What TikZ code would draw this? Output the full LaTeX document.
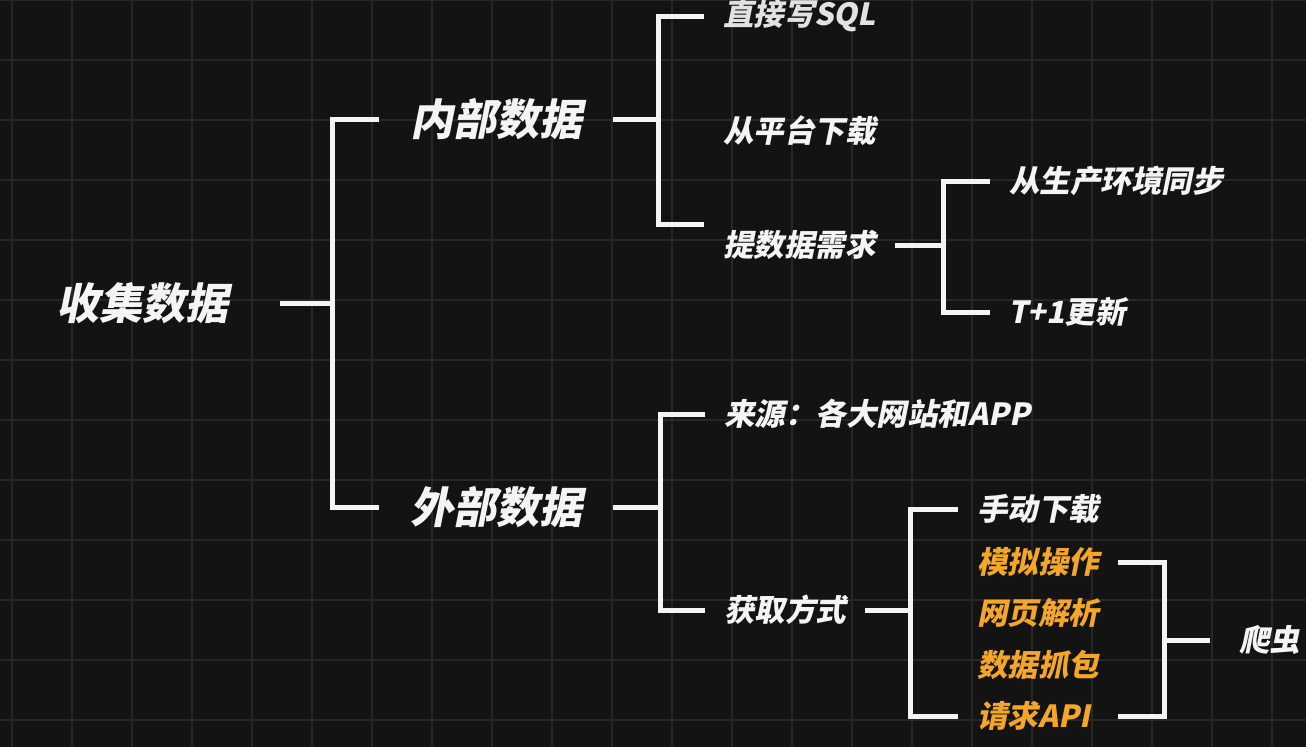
\documentclass[tikz,border=0pt]{standalone}
\usepackage{fontspec}
\newfontfamily\cjk[FakeSlant=0.2]{Noto Sans CJK SC}
\usetikzlibrary{positioning, calc}
\definecolor{cbg}{HTML}{131313}
\definecolor{cgrid}{HTML}{272727}
\definecolor{cwhite}{HTML}{F4F4F4}
\definecolor{cdim}{HTML}{E2E2E2}
\definecolor{corange}{HTML}{F4A62A}
\tikzset{
  every picture/.style={line width=5pt},
  big/.style={font=\cjk\bfseries\fontsize{43}{50}\selectfont, text=cwhite, inner sep=0pt, outer xsep=31pt},
  small/.style={font=\cjk\bfseries\fontsize{30.5}{36}\selectfont, text=cwhite, inner sep=0pt, outer xsep=19pt},
  hot/.style={small, text=corange},
  link/.style={draw=cwhite, line width=5pt},
  gridline/.style={draw=cgrid, line width=1.6pt},
}
\begin{document}
\begin{tikzpicture}[x=1pt, y=-1pt]
  % background and grid
  \fill[cbg] (0,0) rectangle (1306,747);
  \useasboundingbox (0,0) rectangle (1306,747);
  \foreach \gx in {12,72,...,1272} \draw[gridline] (\gx,0) -- (\gx,747);
  \foreach \gy in {0,60,...,720} \draw[gridline] (0,\gy) -- (1306,\gy);

  % root
  \node[big, anchor=east, outer xsep=52pt] (collect) at (280,303) {收集数据};
  \node[big, anchor=west] (inner) at (379,119) {内部数据};
  \node[big, anchor=west] (outer) at (379,507) {外部数据};
  \coordinate (j0) at (332,303);
  \draw[link] (collect.east) -- (j0);
  \draw[link] (inner.west) -| (j0) |- (outer.west);

  % internal data
  \node[small, anchor=west, text=cdim] (sql) at (704,16) {直接写SQL};
  \node[small, anchor=west] (platform) at (704,131) {从平台下载};
  \node[small, anchor=west] (request) at (704,245) {提数据需求};
  \coordinate (j1) at (658,119);
  \draw[link] (inner.east) -- (j1);
  \draw[link] (sql.west) -| (j1) |- ([yshift=21pt]request.west);

  \node[small, anchor=west] (sync) at (990,181) {从生产环境同步};
  \node[small, anchor=west] (tplus) at (989,312) {T+1更新};
  \coordinate (j2) at (943,245);
  \draw[link] (request.east) -- (j2);
  \draw[link] (sync.west) -| (j2) |- ([xshift=1pt]tplus.west);

  % external data
  \node[small, anchor=west] (source) at (705,414) {来源：各大网站和APP};
  \node[small, anchor=west] (method) at (705,610) {获取方式};
  \coordinate (j3) at (660,507);
  \draw[link] (outer.east) -- (j3);
  \draw[link] (source.west) -| (j3) |- (method.west);

  \node[small, anchor=west] (manual) at (958,509) {手动下载};
  \node[hot, anchor=west] (simulate) at (958,562) {模拟操作};
  \node[hot, anchor=west] (parse) at (958,613) {网页解析};
  \node[hot, anchor=west] (capture) at (958,665) {数据抓包};
  \node[hot, anchor=west] (api) at (958,716) {请求API};
  \coordinate (j4) at (910,610);
  \draw[link] (method.east) -- (j4);
  \draw[link] (manual.west) -| (j4) |- (api.west);

  % crawler bracket
  \node[small, anchor=west, outer xsep=29pt] (crawler) at (1210,640) {爬虫};
  \coordinate (j5) at (1164,640);
  \draw[link] (simulate.east) -| (j5) |- (simulate.east |- api.east);
  \draw[link] (j5) -- (crawler.west);
\end{tikzpicture}
\end{document}
